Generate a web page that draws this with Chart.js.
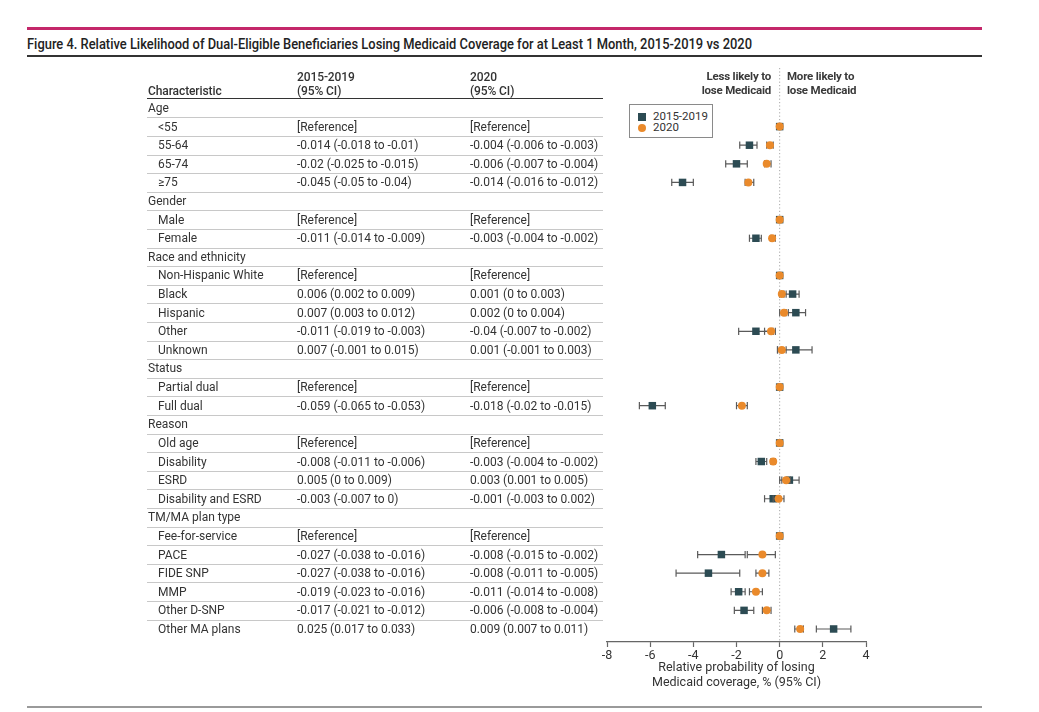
<!DOCTYPE html>
<html>
<head>
<meta charset="utf-8">
<script src="https://cdn.jsdelivr.net/npm/chart.js@4.4.1/dist/chart.umd.min.js"></script>
<style>
  html, body { margin: 0; padding: 0; background: #fff; }
  #page { position: relative; width: 1039px; height: 712px; overflow: hidden; font-family: Roboto, "Noto Sans", sans-serif; color: #2b2b2b; }
  .abs { position: absolute; white-space: nowrap; }
  .cell { position: absolute; white-space: nowrap; font-size: 12px; letter-spacing: 0px; height: 18px; line-height: 18px; color: #333; }
  .hdr { font-size: 12px; font-weight: 500; color: #333; letter-spacing: -0.1px; }
  .sep { position: absolute; height: 1px; background: #c8c8c8; }
  .side { font-size: 11.5px; font-weight: 700; color: #3a3a3a; line-height: 14px; letter-spacing: -0.2px; }
</style>
</head>
<body>
<div id="page">
  <div class="abs" style="left:27px; top:27px; width:955px; height:3px; background:#c4276a;"></div>
  <div id="title" class="abs" style="left:27px; top:36px; font-size:14.5px; font-weight:500; color:#222; transform-origin:0 0;">Figure 4. Relative Likelihood of Dual-Eligible Beneficiaries Losing Medicaid Coverage for at Least 1 Month, 2015-2019 vs 2020</div>
  <div class="abs" style="left:27px; top:55px; width:955px; height:1.5px; background:#333;"></div>
  <div class="abs" style="left:27px; top:706px; width:955px; height:2px; background:#9a9a9a;"></div>
  <canvas id="c" width="1039" height="712" style="position:absolute; left:0; top:0; width:1039px; height:712px;"></canvas>
  <div id="table"></div>
  <div class="abs hdr" style="left:148px; top:84px;">Characteristic</div>
  <div class="abs hdr" style="left:297px; top:70px; line-height:14px;">2015-2019<br>(95% CI)</div>
  <div class="abs hdr" style="left:470px; top:70px; line-height:14px;">2020<br>(95% CI)</div>
  <div class="abs" style="left:147px; top:98px; width:456px; height:1.3px; background:#333;"></div>
  <div class="abs side" style="right:268px; top:69px; text-align:right;">Less likely to<br>lose Medicaid</div>
  <div class="abs side" style="left:787px; top:69px;">More likely to<br>lose Medicaid</div>
  <div id="legend" class="abs" style="left:629px; top:104px; width:82px; height:32px; border:1px solid #8a8a8a; background:#fff;"></div>
</div>
<script>
// ---------- data ----------
const rowLabels = ['Age','<55','55-64','65-74','\u226575','Gender','Male','Female','Race and ethnicity','Non-Hispanic White','Black','Hispanic','Other','Unknown','Status','Partial dual','Full dual','Reason','Old age','Disability','ESRD','Disability and ESRD','TM/MA plan type','Fee-for-service','PACE','FIDE SNP','MMP','Other D-SNP','Other MA plans'];
const rowIsGroup = [1,0,0,0,0,1,0,0,1,0,0,0,0,0,1,0,0,1,0,0,0,0,1,0,0,0,0,0,0];

const text1519 = ['','[Reference]','-0.014 (-0.018 to -0.01)','-0.02 (-0.025 to -0.015)','-0.045 (-0.05 to -0.04)',
  '','[Reference]','-0.011 (-0.014 to -0.009)',
  '','[Reference]','0.006 (0.002 to 0.009)','0.007 (0.003 to 0.012)','-0.011 (-0.019 to -0.003)','0.007 (-0.001 to 0.015)',
  '','[Reference]','-0.059 (-0.065 to -0.053)',
  '','[Reference]','-0.008 (-0.011 to -0.006)','0.005 (0 to 0.009)','-0.003 (-0.007 to 0)',
  '','[Reference]','-0.027 (-0.038 to -0.016)','-0.027 (-0.038 to -0.016)','-0.019 (-0.023 to -0.016)','-0.017 (-0.021 to -0.012)','0.025 (0.017 to 0.033)'];
const text2020 = ['','[Reference]','-0.004 (-0.006 to -0.003)','-0.006 (-0.007 to -0.004)','-0.014 (-0.016 to -0.012)',
  '','[Reference]','-0.003 (-0.004 to -0.002)',
  '','[Reference]','0.001 (0 to 0.003)','0.002 (0 to 0.004)','-0.04 (-0.007 to -0.002)','0.001 (-0.001 to 0.003)',
  '','[Reference]','-0.018 (-0.02 to -0.015)',
  '','[Reference]','-0.003 (-0.004 to -0.002)','0.003 (0.001 to 0.005)','-0.001 (-0.003 to 0.002)',
  '','[Reference]','-0.008 (-0.015 to -0.002)','-0.008 (-0.011 to -0.005)','-0.011 (-0.014 to -0.008)','-0.006 (-0.008 to -0.004)','0.009 (0.007 to 0.011)'];

// plotted values, %
const est1519 = [null,0,-1.4,-2.0,-4.5, null,0,-1.1, null,0,0.6,0.75,-1.1,0.75, null,0,-5.9, null,0,-0.85,0.45,-0.3, null,0,-2.7,-3.3,-1.9,-1.65,2.5];
const lo1519  = [null,null,-1.85,-2.5,-5.0, null,null,-1.4, null,null,0.2,0.3,-1.9,-0.1, null,null,-6.5, null,null,-1.1,0,-0.7, null,null,-3.8,-4.8,-2.25,-2.1,1.7];
const hi1519  = [null,null,-1.05,-1.5,-4.0, null,null,-0.85, null,null,0.9,1.2,-0.3,1.5, null,null,-5.3, null,null,-0.6,0.9,0, null,null,-1.6,-1.85,-1.6,-1.2,3.3];
const est2020 = [null,0,-0.45,-0.6,-1.45, null,0,-0.35, null,0,0.1,0.2,-0.4,0.1, null,0,-1.75, null,0,-0.3,0.3,-0.05, null,0,-0.8,-0.8,-1.1,-0.6,0.95];
const lo2020  = [null,null,-0.6,-0.7,-1.6, null,null,-0.4, null,null,0,0,-0.7,-0.1, null,null,-2.0, null,null,-0.4,0.1,-0.3, null,null,-1.5,-1.1,-1.4,-0.8,0.7];
const hi2020  = [null,null,-0.3,-0.4,-1.2, null,null,-0.2, null,null,0.3,0.4,-0.2,0.3, null,null,-1.5, null,null,-0.2,0.5,0.2, null,null,-0.2,-0.5,-0.8,-0.4,1.1];

const xTicks = [-8,-6,-4,-2,0,2,4];
const seriesNames = ['2015-2019','2020'];
const seriesColors = ['#2c4b53','#ea8a2b'];
const barColor = '#5a5a5a';

// ---------- builders ----------
function points(est) { const out=[]; est.forEach((v,i)=>{ if (v!==null) out.push({x:v,y:i}); }); return out; }
function ciLines(lo, hi) { const out=[]; lo.forEach((v,i)=>{ if (v!==null) { out.push({x:v,y:i},{x:hi[i],y:i},{x:null,y:null}); } }); return out; }
function caps(lo, hi) { const out=[]; lo.forEach((v,i)=>{ if (v!==null) { out.push({x:v,y:i},{x:hi[i],y:i}); } }); return out; }

const yMin = -2.15, yMax = 28.7;

const chart = new Chart(document.getElementById('c'), {
  type: 'scatter',
  data: { datasets: [
    { label:'zero', data:[{x:0,y:yMin},{x:0,y:yMax}], showLine:true, borderColor:'#a8a8a8', borderWidth:1, borderDash:[1.2,2.2], pointRadius:0, order:20 },
    { label:'ci1', data:ciLines(lo1519,hi1519), showLine:true, spanGaps:false, borderColor:barColor, borderWidth:1.2, pointRadius:0, order:19 },
    { label:'cap1', data:caps(lo1519,hi1519), pointStyle:'line', rotation:90, pointRadius:3.6, pointBorderColor:barColor, pointBorderWidth:1.2, order:18 },
    { label:seriesNames[0], data:points(est1519), pointStyle:'rect', pointRadius:5.3, pointBackgroundColor:seriesColors[0], pointBorderColor:seriesColors[0], pointBorderWidth:0, order:17 },
    { label:'ci2', data:ciLines(lo2020,hi2020), showLine:true, spanGaps:false, borderColor:barColor, borderWidth:1.2, pointRadius:0, order:16 },
    { label:'cap2', data:caps(lo2020,hi2020), pointStyle:'line', rotation:90, pointRadius:3.6, pointBorderColor:barColor, pointBorderWidth:1.2, order:15 },
    { label:seriesNames[1], data:points(est2020), pointStyle:'circle', pointRadius:4.0, pointBackgroundColor:seriesColors[1], pointBorderColor:seriesColors[1], pointBorderWidth:0, order:14 }
  ]},
  options: {
    responsive:false, animation:false, devicePixelRatio:1,
    layout: { padding: { left:607, right:173, top:68, bottom:17.5 } },
    plugins: { legend:{display:false}, tooltip:{enabled:false} },
    scales: {
      x: { type:'linear', min:-8, max:4,
        afterBuildTicks: s => { s.ticks = xTicks.map(v=>({value:v})); },
        afterFit: s => { s.height = 52.5; },
        ticks: { color:'#333', font:{family:'Roboto', size:12.5}, padding:1 },
        grid: { drawOnChartArea:false, drawTicks:true, tickLength:5, color:'#666', tickWidth:1.2 },
        border: { display:true, color:'#666', width:1.2 },
        title: { display:true, text:['Relative probability of losing','Medicaid coverage, % (95% CI)'], color:'#333', font:{family:'Roboto', size:12.5, lineHeight:1.2}, padding:{top:2,bottom:4} }
      },
      y: { type:'linear', reverse:true, min:yMin, max:yMax, display:false }
    }
  }
});

// ---------- table (positioned from the chart's y scale) ----------
const ys = chart.scales.y;
const table = document.getElementById('table');
rowLabels.forEach((lab,i)=>{
  const yc = ys.getPixelForValue(i);
  const mk = (txt,left)=>{ const d=document.createElement('div'); d.className='cell'; d.textContent=txt; d.style.left=left+'px'; d.style.top=(yc-9)+'px'; table.appendChild(d); };
  mk(lab, rowIsGroup[i] ? 148 : 158);
  if (text1519[i]) mk(text1519[i], 297);
  if (text2020[i]) mk(text2020[i], 470);
  if (i < rowLabels.length-1) {
    const s=document.createElement('div'); s.className='sep';
    s.style.left='147px'; s.style.width='456px';
    s.style.top=Math.round((yc+ys.getPixelForValue(i+1))/2)+'px';
    table.appendChild(s);
  }
});

// ---------- legend ----------
const lg = document.getElementById('legend');
seriesNames.forEach((n,k)=>{
  const row=document.createElement('div'); row.className='abs'; row.style.left='8px'; row.style.top=(6+k*11)+'px';
  row.style.fontSize='11.5px'; row.style.lineHeight='11px'; row.style.color='#333';
  const m=document.createElement('span'); m.style.display='inline-block'; m.style.width='8px'; m.style.height='8px';
  m.style.background=seriesColors[k]; m.style.borderRadius = k===1 ? '50%' : '0'; m.style.marginRight='7px'; m.style.verticalAlign='-1px';
  row.appendChild(m); row.appendChild(document.createTextNode(n)); lg.appendChild(row);
});

// ---------- fit title width ----------
const t = document.getElementById('title');
const w = t.getBoundingClientRect().width;
t.style.transform = 'scaleX(' + (725 / w) + ')';
</script>
</body>
</html>
